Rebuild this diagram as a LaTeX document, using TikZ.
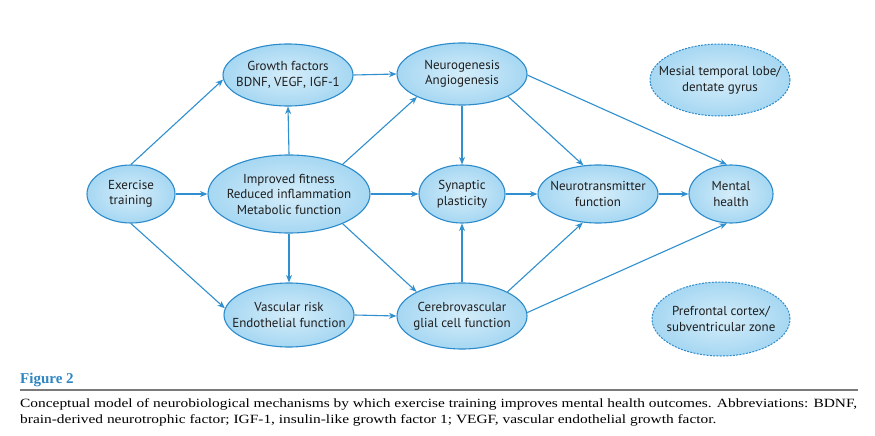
\documentclass[tikz,border=0pt]{standalone}
\usepackage{fontspec}
\setmainfont{Liberation Serif}
\newfontfamily\diagfont{PT Sans}
\usetikzlibrary{shapes.geometric,arrows.meta}
\definecolor{edgeblue}{HTML}{2F8FCF}
\definecolor{lineblue}{HTML}{2B8BCB}
\definecolor{fillin}{HTML}{D4EDFA}
\definecolor{fillout}{HTML}{A6D7F2}
\definecolor{figblue}{HTML}{2F86C3}
\definecolor{rulegray}{HTML}{7A7A7A}
\definecolor{txt}{HTML}{1E1E1E}
\newsavebox\capboxA
\newsavebox\capboxB
\newlength\capwA
\begin{document}
\sbox\capboxA{\fontsize{12.6}{15}\selectfont Conceptual model of neurobiological mechanisms by which exercise training improves mental health outcomes. Abbreviations: BDNF,}%
\sbox\capboxB{\fontsize{12.6}{15}\selectfont brain-derived neurotrophic factor; IGF-1, insulin-like growth factor 1; VEGF, vascular endothelial growth factor.}%
\setlength\capwA{\wd\capboxA}%
\pgfmathsetmacro\capsx{837/\capwA}%
\begin{tikzpicture}[x=1pt,y=-1pt,
  bub/.style={ellipse, draw=lineblue, line width=1.1pt, inner color=fillin, outer color=fillout,
    inner xsep=-16pt, inner ysep=-6pt, align=center, font=\diagfont\fontsize{13}{15.5}\selectfont, text=txt},
  dbub/.style={bub, dash pattern=on 2pt off 1.3pt, line width=1pt},
  arr/.style={draw=edgeblue, line width=1.1pt, -{Stealth[length=7.5pt,width=6pt]}},
  capfont/.style={text=black, inner sep=0pt, anchor=base west}
]
\useasboundingbox[fill=white] (0,0) rectangle (875,436);
% nodes
\node[bub, minimum width=88pt, minimum height=58pt] (ex) at (131,194) {Exercise\\training};
\node[bub, minimum width=162pt, minimum height=78pt] (imp) at (289,194) {Improved fitness\\Reduced inflammation\\Metabolic function};
\node[bub, minimum width=130pt, minimum height=62pt] (gf) at (288,75) {Growth factors\\BDNF, VEGF, IGF-1};
\node[bub, minimum width=130pt, minimum height=62pt] (ng) at (462,74) {Neurogenesis\\Angiogenesis};
\node[bub, minimum width=86pt, minimum height=58pt] (sp) at (462,194) {Synaptic\\plasticity};
\node[bub, minimum width=120pt, minimum height=58pt] (nt) at (598,194) {Neurotransmitter\\function};
\node[bub, minimum width=84pt, minimum height=58pt] (mh) at (731,194) {Mental\\health};
\node[dbub, minimum width=140pt, minimum height=72pt] (mt) at (720,80) {Mesial temporal lobe/\\dentate gyrus};
\node[bub, minimum width=130pt, minimum height=64pt] (vr) at (289,315) {Vascular risk\\Endothelial function};
\node[bub, minimum width=130pt, minimum height=66pt] (cv) at (462,316) {Cerebrovascular\\glial cell function};
\node[dbub, minimum width=138pt, minimum height=74pt] (pf) at (721,319) {Prefrontal cortex/\\subventricular zone};
% connectors
\draw[arr] (ex.north) -- (gf.184);
\draw[arr] (ex.east) -- (imp.west);
\draw[arr] (ex.south) -- (vr.174);
\draw[arr] (imp.north) -- (gf.south);
\draw[arr] (imp.29) -- (ng.207);
\draw[arr] (imp.east) -- (sp.west);
\draw[arr] (imp.south) -- (vr.north);
\draw[arr] (imp.331) -- (cv.152);
\draw[arr] (gf.east) -- (ng.west);
\draw[arr] (ng.south) -- (sp.north);
\draw[arr] (ng.334) -- (nt.117);
\draw[arr] (ng.359) -- (mh.98);
\draw[arr] (sp.east) -- (nt.west);
\draw[arr] (nt.east) -- (mh.west);
\draw[arr] (vr.east) -- (cv.west);
\draw[arr] (cv.north) -- (sp.south);
\draw[arr] (cv.28) -- (nt.242);
\draw[arr] (cv.3) -- (mh.262);
% caption
\node[font=\bfseries\fontsize{15}{18}\selectfont, text=figblue, inner sep=0pt, anchor=base west] (fig) at (20,383) {Figure 2};
\coordinate (rl) at (20,390);
\coordinate (rr) at (858,390);
\draw[rulegray, line width=1.4pt] (rl) -- (rr);
\node[capfont] (c1) at (20,407) {\scalebox{\capsx}[1]{\usebox\capboxA}};
\node[capfont] (c2) at (20,423) {\scalebox{\capsx}[1]{\usebox\capboxB}};
\end{tikzpicture}
\end{document}
